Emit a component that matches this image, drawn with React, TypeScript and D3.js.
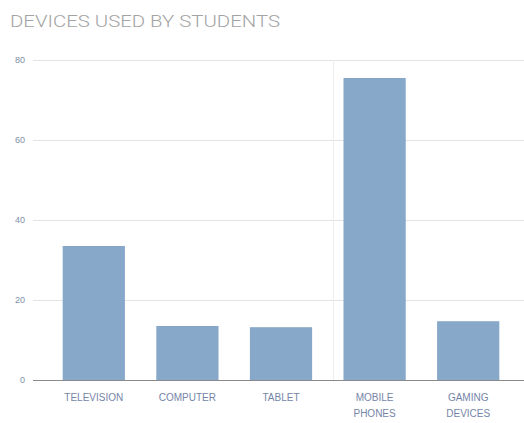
import React, { useEffect, useRef } from "react";
import * as d3 from "d3";

const categories = ["TELEVISION", "COMPUTER", "TABLET", "MOBILE PHONES", "GAMING DEVICES"];
const labelLines = [["TELEVISION"], ["COMPUTER"], ["TABLET"], ["MOBILE", "PHONES"], ["GAMING", "DEVICES"]];
const values = [33.5, 13.5, 13.2, 75.5, 14.7];
const yTicks = [0, 20, 40, 60, 80];
const title = "DEVICES USED BY STUDENTS";

const W = 524, H = 423;

export default function App() {
  const ref = useRef<SVGSVGElement>(null);
  useEffect(() => {
    const svg = d3.select(ref.current);
    svg.selectAll("*").remove();
    const font = "'Liberation Sans', Arial, sans-serif";
    const x = d3.scaleBand<string>().domain(categories).range([47, 515]).paddingInner(0.335).paddingOuter(0.1675);
    const y = d3.scaleLinear().domain([0, 80]).range([380, 60]);

    svg.append("text").attr("x", 10).attr("y", 27).attr("font-family", "Roboto, 'Liberation Sans', sans-serif")
      .attr("font-weight", 300).attr("font-size", 17)
      .attr("fill", "#a3a3a3").attr("textLength", 270).attr("lengthAdjust", "spacingAndGlyphs").text(title);

    const g = svg.append("g");
    g.selectAll("line.grid").data(yTicks.filter(t => t !== 0)).join("line")
      .attr("x1", 33).attr("x2", W).attr("y1", d => y(d) + 0.5).attr("y2", d => y(d) + 0.5)
      .attr("stroke", "#e3e3e3").attr("stroke-width", 1);
    g.append("line").attr("x1", 333.5).attr("x2", 333.5).attr("y1", y(80)).attr("y2", y(0))
      .attr("stroke", "#eeeeee");

    g.selectAll("text.yt").data(yTicks).join("text")
      .attr("x", 25).attr("y", d => y(d) + 3).attr("text-anchor", "end")
      .attr("font-family", font).attr("font-size", 9).attr("fill", "#8090a8").text(d => d);

    g.selectAll("rect").data(values).join("rect")
      .attr("x", (d, i) => x(categories[i])!).attr("width", x.bandwidth())
      .attr("y", d => y(d)).attr("height", d => y(0) - y(d)).attr("fill", "#88a8c9");

    g.append("line").attr("x1", 33).attr("x2", W).attr("y1", y(0) + 0.5).attr("y2", y(0) + 0.5)
      .attr("stroke", "#8a8a8a").attr("stroke-width", 1);

    categories.forEach((c, i) => {
      const cx = x(c)! + x.bandwidth() / 2;
      const t = g.append("text").attr("text-anchor", "middle").attr("font-family", font)
        .attr("font-size", 10).attr("fill", "#7585a8");
      labelLines[i].forEach((ln, j) => {
        t.append("tspan").attr("x", cx).attr("y", 401 + j * 16).text(ln);
      });
    });
  }, []);
  return <svg ref={ref} width={W} height={H} style={{ position: "absolute", left: 0, top: 0, background: "#fff" }} />;
}
